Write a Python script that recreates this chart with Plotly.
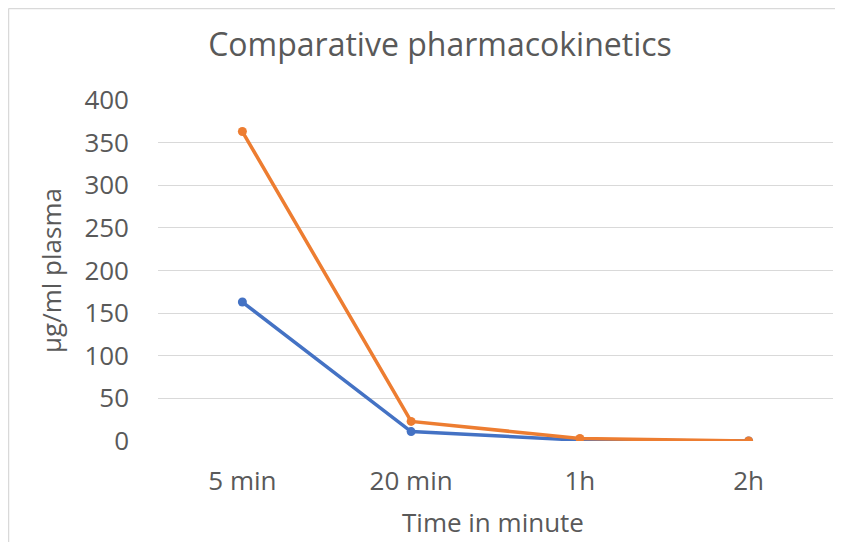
import plotly.graph_objects as go

categories = ["5 min", "20 min", "1h", "2h"]
series_blue = [163, 11, 1, 0]
series_orange = [363, 23, 3, 0]
y_ticks = [0, 50, 100, 150, 200, 250, 300, 350, 400]

# The page body adds an 8px margin, so the figure is drawn 8px in from the window edge.
OFF = 8
W, H = 843 - OFF, 542 - OFF
L, R, T, B = 158 - OFF, 833 - OFF, 100 - OFF, 441 - OFF  # plot area pixels inside figure
pw, ph = R - L, B - T

def px_x(p):
    return (p - OFF - L) / pw

def px_y(p):
    return (B - (p - OFF)) / ph

FONT = "Open Sans"
TXT = "#595959"

fig = go.Figure()
fig.add_trace(go.Scatter(x=categories, y=series_blue, mode="lines+markers",
                         line=dict(color="#4472C4", width=3.5),
                         marker=dict(color="#4472C4", size=9), name="A"))
fig.add_trace(go.Scatter(x=categories, y=series_orange, mode="lines+markers",
                         line=dict(color="#ED7D31", width=3.5),
                         marker=dict(color="#ED7D31", size=9), name="B"))

fig.update_layout(
    width=W, height=H,
    margin=dict(l=L, r=W - R, t=T, b=H - B, pad=0),
    paper_bgcolor="white",
    plot_bgcolor="rgba(0,0,0,0)",
    showlegend=False,
    font=dict(family=FONT, color=TXT, size=26),
    title=dict(text="Comparative pharmacokinetics", font=dict(size=32, color=TXT, family=FONT),
               xref="container", yref="container", x=(440 - OFF) / W, y=1 - (45 - OFF) / H,
               xanchor="center", yanchor="middle"),
    xaxis=dict(type="category", range=[-0.5, 3.5], showgrid=False, zeroline=False,
               showline=False, ticks="", tickfont=dict(size=26, color=TXT),
               ticklabelstandoff=22),
    yaxis=dict(range=[0, 400], tickvals=y_ticks, showgrid=True, gridcolor="#d9d9d9",
               gridwidth=1, zeroline=False, showline=False, ticks="",
               tickfont=dict(size=26, color=TXT), ticklabelstandoff=28),
    shapes=[
        dict(type="line", xref="paper", yref="paper", layer="below",
             x0=px_x(8.5), x1=px_x(8.5), y0=px_y(545), y1=px_y(8.5),
             line=dict(color="#d9d9d9", width=1.5)),
        dict(type="line", xref="paper", yref="paper", layer="below",
             x0=px_x(8.5), x1=px_x(850), y0=px_y(8.5), y1=px_y(8.5),
             line=dict(color="#d9d9d9", width=1.5)),
    ],
    annotations=[
        dict(text="Time in minute", xref="paper", yref="paper", x=px_x(493), y=px_y(522),
             xanchor="center", yanchor="middle", showarrow=False,
             font=dict(size=26, color=TXT, family=FONT)),
        dict(text="µg/ml plasma", xref="paper", yref="paper", x=px_x(51), y=px_y(270),
             xanchor="center", yanchor="middle", showarrow=False, textangle=-90,
             font=dict(size=26, color=TXT, family=FONT)),
    ],
)

fig.write_html("out.html")
